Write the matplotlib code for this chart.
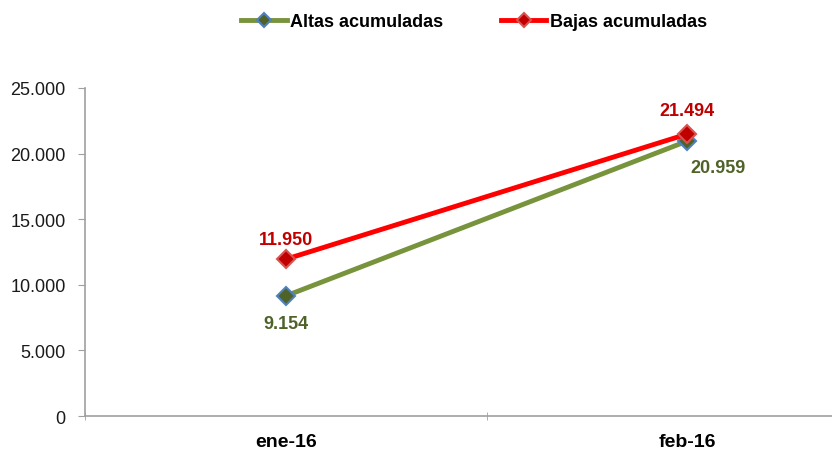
import matplotlib
matplotlib.use('Agg')
import matplotlib.pyplot as plt
from matplotlib.ticker import FuncFormatter

plt.rcParams['font.family'] = ['Liberation Sans', 'DejaVu Sans']

# datos
meses = ['ene-16', 'feb-16']
altas = [9154, 20959]
bajas = [11950, 21494]
yticks = [0, 5000, 10000, 15000, 20000, 25000]


def fmt_es(v, pos=None):
    return f'{int(v):,}'.replace(',', '.')


fig = plt.figure(figsize=(8.32, 4.52), dpi=100)
ax = fig.add_axes([0.1022, 0.0774, 0.8978, 0.7257])

x = list(range(len(meses)))
ax.plot(x, altas, color='#77933C', linewidth=3.5, marker='D', markersize=9,
        markerfacecolor='#4F6228', markeredgecolor='#4F81BD', markeredgewidth=1.5,
        label='Altas acumuladas', zorder=3)
ax.plot(x, bajas, color='#FF0000', linewidth=3.5, marker='D', markersize=9,
        markerfacecolor='#C00000', markeredgecolor='#D9534F', markeredgewidth=1.5,
        label='Bajas acumuladas', zorder=4)

# etiquetas de datos
ax.annotate(fmt_es(bajas[0]), (x[0], bajas[0]), xytext=(0, 8), textcoords='offset points',
            ha='center', va='bottom', fontsize=13, fontweight='bold', color='#C00000')
ax.annotate(fmt_es(altas[0]), (x[0], altas[0]), xytext=(0, -14), textcoords='offset points',
            ha='center', va='top', fontsize=13, fontweight='bold', color='#4F6228')
ax.annotate(fmt_es(bajas[1]), (x[1], bajas[1]), xytext=(0, 11), textcoords='offset points',
            ha='center', va='bottom', fontsize=13, fontweight='bold', color='#C00000')
ax.annotate(fmt_es(altas[1]), (x[1], altas[1]), xytext=(22, -13), textcoords='offset points',
            ha='center', va='top', fontsize=13, fontweight='bold', color='#4F6228')

ax.set_xlim(-0.5, 1.36)
ax.set_ylim(0, 25000)
ax.set_yticks(yticks)
ax.yaxis.set_major_formatter(FuncFormatter(fmt_es))
ax.set_xticks(x)
ax.set_xticklabels(meses, fontsize=14, fontweight='bold')
ax.set_xticks([-0.5, 0.5], minor=True)
ax.tick_params(axis='x', which='major', length=0, pad=12)
ax.tick_params(axis='x', which='minor', length=6, color='#A0A0A0', direction='inout')
ax.tick_params(axis='y', length=5, color='#A0A0A0', labelsize=13, direction='out', pad=9)
for lab in ax.get_yticklabels():
    lab.set_color('#1a1a1a')

for s in ['top', 'right']:
    ax.spines[s].set_visible(False)
for s in ['left', 'bottom']:
    ax.spines[s].set_color('#A0A0A0')
    ax.spines[s].set_linewidth(1.2)

leg = fig.legend(loc='upper center', bbox_to_anchor=(0.57, 1.005), ncol=2, frameon=False,
                 prop={'size': 13, 'weight': 'bold'}, handlelength=2.5,
                 columnspacing=3.2, handletextpad=0.2, markerscale=0.8)

fig.savefig('out.png', dpi=100)
